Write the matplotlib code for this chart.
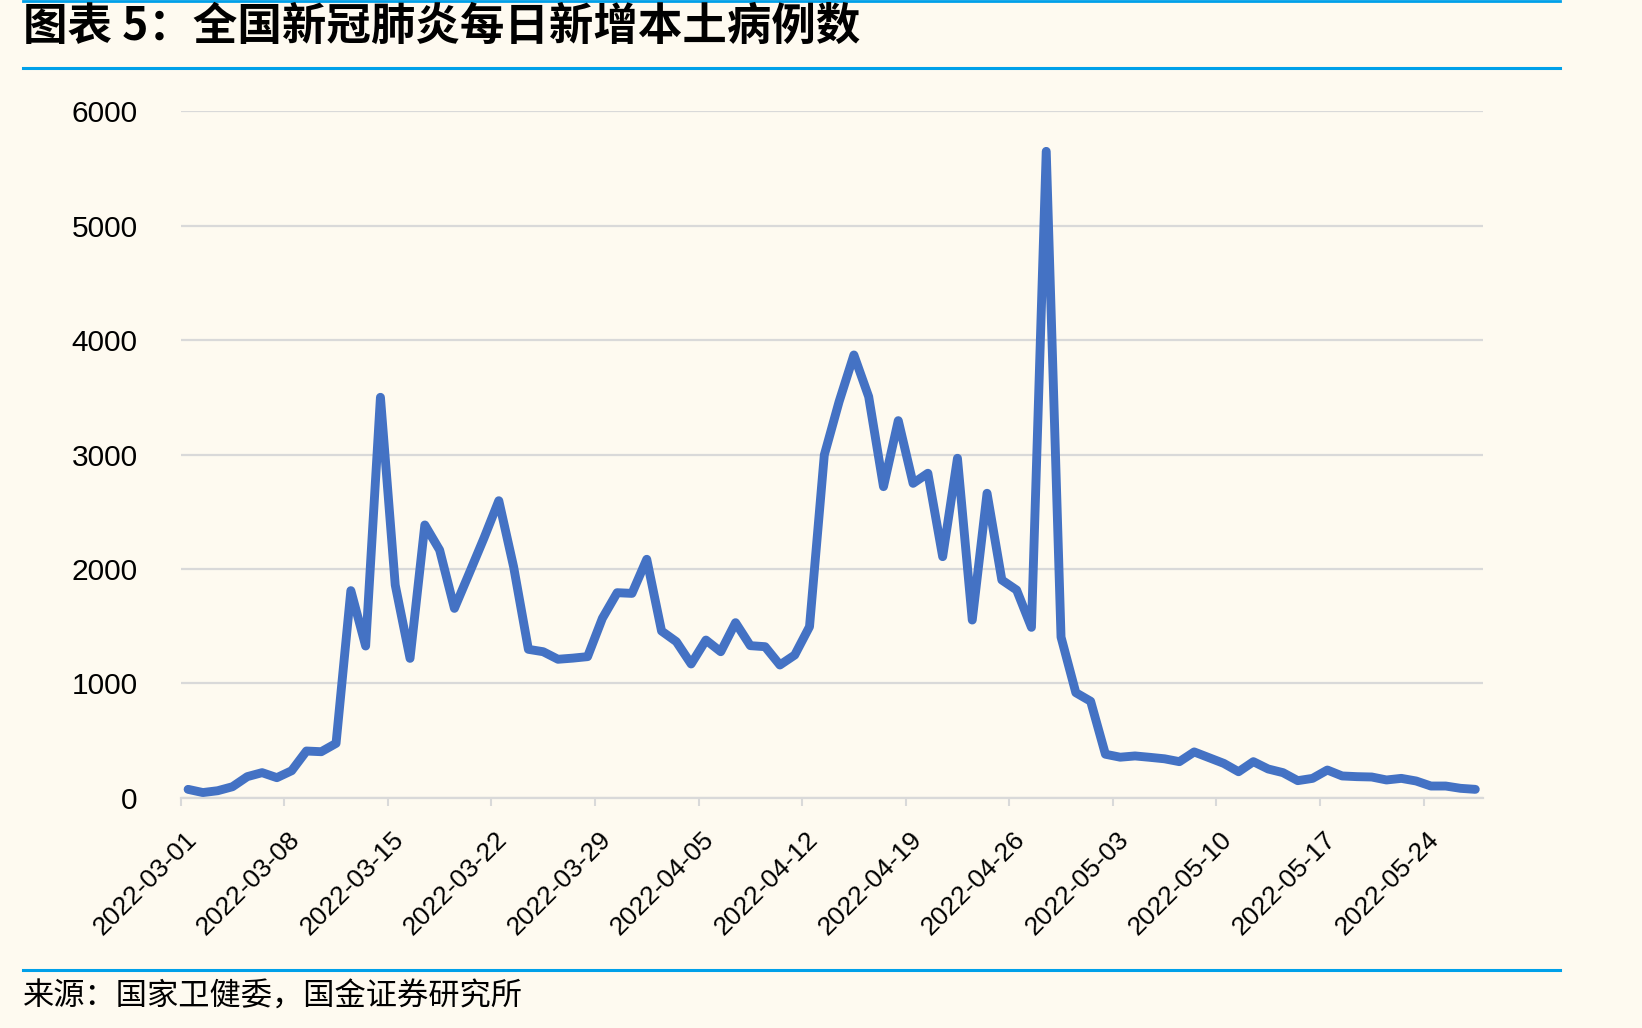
import matplotlib
matplotlib.use("Agg")
import matplotlib.pyplot as plt
import matplotlib.transforms as mtransforms
from matplotlib.lines import Line2D
import pandas as pd

plt.rcParams['font.family'] = ['Noto Sans CJK SC', 'DejaVu Sans']

# 全国新冠肺炎每日新增本土病例数 (2022-03-01 起，逐日)
start_date = '2022-03-01'
cases = [73, 45, 61, 96, 184, 219, 175, 236, 408, 402,
         475, 1810, 1326, 3500, 1859, 1218, 2384, 2165, 1655, 1961,
         2270, 2596, 2019, 1297, 1276, 1210, 1220, 1233, 1568, 1792,
         1786, 2084, 1457, 1364, 1169, 1378, 1276, 1530, 1329, 1320,
         1160, 1247, 1495, 2996, 3462, 3870, 3505, 2719, 3296, 2748,
         2836, 2107, 2967, 1553, 2661, 1903, 1815, 1489, 5650, 1404,
         918, 843, 380, 354, 365, 353, 340, 315, 400, 350,
         300, 227, 315, 251, 219, 149, 169, 242, 190, 184,
         181, 155, 169, 146, 102, 102, 82, 73]
y_ticks = [0, 1000, 2000, 3000, 4000, 5000, 6000]
tick_step = 7

title = '图表 5：全国新冠肺炎每日新增本土病例数'
source = '来源：国家卫健委，国金证券研究所'

bg = '#FEFAF0'
line_blue = '#4472C4'
rule_blue = '#00A0E9'
grid_gray = '#D9D9D9'

dates = pd.date_range(start_date, periods=len(cases))
W, H = 1642, 1028

fig = plt.figure(figsize=(W / 100, H / 100), dpi=100, facecolor=bg)
ax = fig.add_axes([180.7 / W, 1 - 797.7 / H, (1482.7 - 180.7) / W, (797.7 - 111.3) / H])
ax.set_facecolor(bg)

# Excel 风格: 点落在两刻度之间
x = [i + 0.5 for i in range(len(cases))]
ax.plot(x, cases, color=line_blue, lw=6.4, solid_joinstyle='round', solid_capstyle='round', zorder=3)

ax.set_xlim(0, len(cases))
ax.set_ylim(y_ticks[0], y_ticks[-1])
ax.set_yticks(y_ticks)
ax.set_yticklabels([str(v) for v in y_ticks], fontfamily='Liberation Sans', fontsize=21.5)
ax.grid(axis='y', color=grid_gray, lw=1.6, zorder=0)

tick_pos = list(range(0, len(cases), tick_step))
ax.set_xticks(tick_pos)
ax.set_xticklabels([dates[i].strftime('%Y-%m-%d') for i in tick_pos],
                   rotation=45, ha='right', va='center', rotation_mode='anchor',
                   fontfamily='Liberation Sans', fontsize=19)

ax.tick_params(axis='y', length=0, pad=31)
ax.tick_params(axis='x', length=6, width=1.5, color=grid_gray, pad=21)

offset = mtransforms.ScaledTranslation(12 / 100, 0, fig.dpi_scale_trans)
for label in ax.get_xticklabels():
    label.set_transform(label.get_transform() + offset)

for side in ['top', 'right', 'left']:
    ax.spines[side].set_visible(False)
ax.spines['bottom'].set_color(grid_gray)
ax.spines['bottom'].set_linewidth(1.6)

# 标题与分隔线
fig.add_artist(Line2D([23 / W, 1560 / W], [1 - 1 / H, 1 - 1 / H], color=rule_blue, lw=2))
fig.add_artist(Line2D([23 / W, 1560 / W], [1 - 68 / H, 1 - 68 / H], color=rule_blue, lw=2.2))
fig.add_artist(Line2D([23 / W, 1560 / W], [1 - 970 / H, 1 - 970 / H], color=rule_blue, lw=2.2))

fig.text(23 / W, 1 - 27 / H, title, fontsize=32, fontweight='bold', fontstyle='italic', va='center')
fig.text(23 / W, 1 - 997 / H, source, fontsize=22.5, va='center')

fig.savefig('out.png', dpi=100, facecolor=bg)
